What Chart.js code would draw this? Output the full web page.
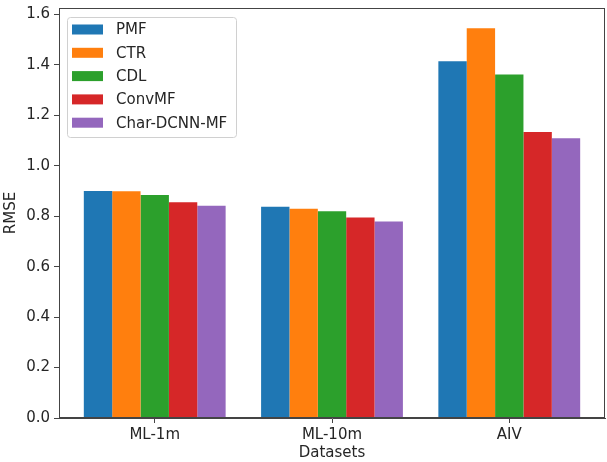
<!DOCTYPE html>
<html>
<head>
<meta charset="utf-8">
<script src="https://cdn.jsdelivr.net/npm/chart.js@4.4.1/dist/chart.umd.min.js"></script>
<style>
  html, body { margin: 0; padding: 0; background: #fff; }
  #wrap { width: 607px; height: 462px; }
</style>
</head>
<body>
<div id="wrap"><canvas id="chart" width="607" height="462"></canvas></div>
<script>
// ── Data ──
const datasetsNames = ['ML-1m', 'ML-10m', 'AIV'];
const methods = ['PMF', 'CTR', 'CDL', 'ConvMF', 'Char-DCNN-MF'];
const pmf = [0.900, 0.837, 1.414];
const ctr = [0.899, 0.829, 1.545];
const cdl = [0.884, 0.819, 1.361];
const convmf = [0.855, 0.795, 1.134];
const charDcnn = [0.841, 0.779, 1.109];
const yTicks = [0.0, 0.2, 0.4, 0.6, 0.8, 1.0, 1.2, 1.4, 1.6];

const seriesValues = [pmf, ctr, cdl, convmf, charDcnn];
const colors = ['#1f77b4', '#ff7f0e', '#2ca02c', '#d62728', '#9467bd'];

const FONT = 'DejaVu Sans';
const TEXT = '#262626';
const AXIS = '#444';

// Legend drawn inside the plot, matplotlib style
const insideLegend = {
    id: 'insideLegend',
    afterDraw(chart) {
        const { ctx, chartArea } = chart;
        // frame (top/right spines too)
        ctx.save();
        ctx.strokeStyle = AXIS;
        ctx.lineWidth = 1;
        ctx.strokeRect(chartArea.left + 0.5, chartArea.top + 0.5,
            chartArea.right - chartArea.left - 1, chartArea.bottom - chartArea.top - 1);

        const x0 = chartArea.left + 8, y0 = chartArea.top + 9;
        const w = 169, h = 120;
        ctx.beginPath();
        ctx.roundRect(x0 + 0.5, y0 + 0.5, w, h, 3);
        ctx.fillStyle = 'rgba(255,255,255,0.8)';
        ctx.fill();
        ctx.strokeStyle = '#d0d0d0';
        ctx.stroke();

        ctx.font = `15px "${FONT}"`;
        ctx.textBaseline = 'middle';
        chart.data.datasets.forEach((ds, i) => {
            const cy = y0 + 12.5 + i * 23.3;
            ctx.fillStyle = ds.backgroundColor;
            ctx.fillRect(x0 + 5, cy - 5, 31, 10);
            ctx.fillStyle = TEXT;
            ctx.fillText(ds.label, x0 + 49, cy + 1);
        });
        ctx.restore();
    }
};

const chart = new Chart(document.getElementById('chart'), {
    type: 'bar',
    data: {
        datasets: methods.map((m, i) => ({
            label: m,
            data: seriesValues[i].map((v, j) => ({ x: j, y: v })),
            backgroundColor: colors[i],
            borderWidth: 0,
            categoryPercentage: 0.8,
            barPercentage: 1.0
        }))
    },
    options: {
        responsive: false,
        animation: false,
        layout: { padding: { left: 0, right: 2, top: 8, bottom: 0 } },
        plugins: { legend: { display: false }, tooltip: { enabled: false } },
        scales: {
            x: {
                type: 'linear',
                min: -0.54,
                max: 2.54,
                offset: false,
                afterBuildTicks: (s) => { s.ticks = datasetsNames.map((_, i) => ({ value: i })); },
                afterFit: (s) => { s.height = 44; s.paddingLeft = 0; s.paddingRight = 0; },
                ticks: {
                    callback: (v) => datasetsNames[v] ?? '',
                    font: { family: FONT, size: 15 },
                    color: TEXT,
                    padding: 3,
                    maxRotation: 0
                },
                grid: { display: true, offset: false, drawOnChartArea: false, drawTicks: true, tickLength: 5, color: AXIS },
                border: { display: true, color: AXIS },
                title: { display: true, text: 'Datasets', font: { family: FONT, size: 15 }, color: TEXT, padding: { top: 0, bottom: 0 } }
            },
            y: {
                min: 0,
                max: 1.625,
                afterBuildTicks: (s) => { s.ticks = yTicks.map(v => ({ value: v })); },
                afterFit: (s) => { s.width = 59; s.paddingTop = 0; s.paddingBottom = 0; },
                ticks: {
                    callback: (v) => Number(v).toFixed(1),
                    font: { family: FONT, size: 15 },
                    color: TEXT,
                    padding: 4
                },
                grid: { display: true, drawOnChartArea: false, drawTicks: true, tickLength: 5, color: AXIS },
                border: { display: true, color: AXIS },
                title: { display: true, text: 'RMSE', font: { family: FONT, size: 15 }, color: TEXT, padding: { top: 2, bottom: 0 } }
            }
        }
    },
    plugins: [insideLegend]
});
</script>
</body>
</html>
